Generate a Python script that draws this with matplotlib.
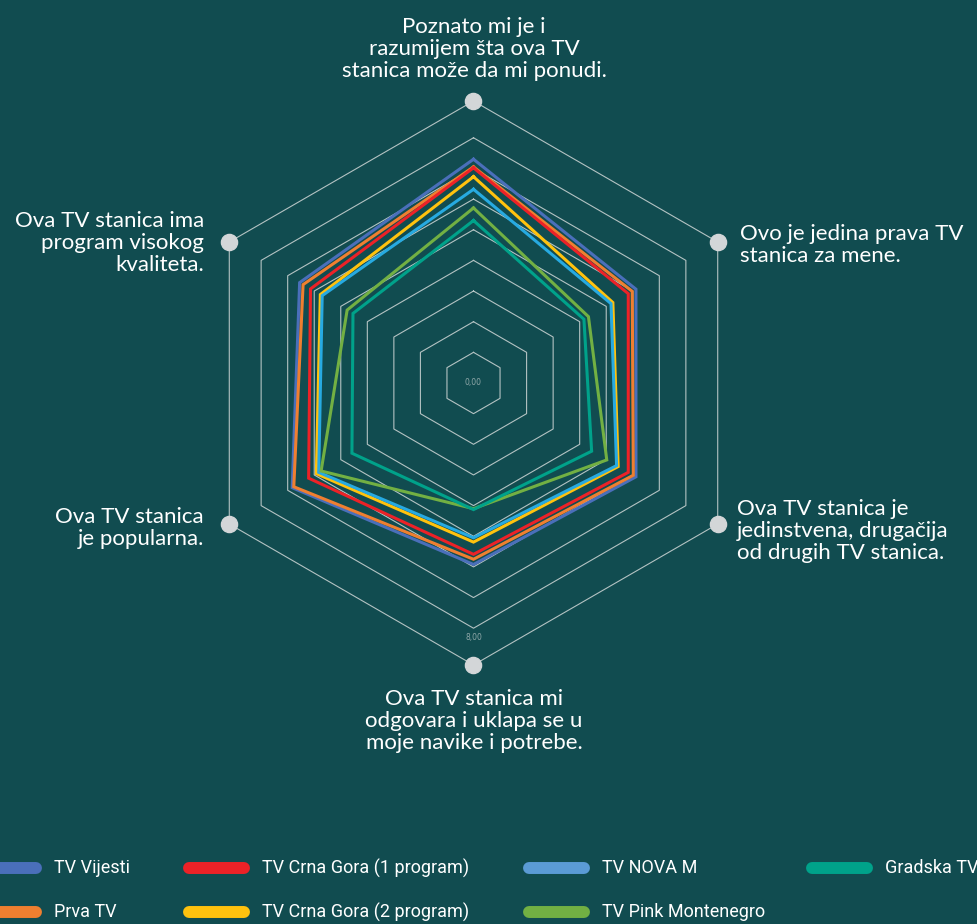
import numpy as np
import matplotlib.pyplot as plt
from matplotlib.lines import Line2D

# Kategorije (redom u smjeru kazaljke, od vrha)
categories = [
    'Poznato mi je i\nrazumijem šta ova TV\nstanica može da mi ponudi.',
    'Ovo je jedina prava TV\nstanica za mene.',
    'Ova TV stanica je\njedinstvena, drugačija\nod drugih TV stanica.',
    'Ova TV stanica mi\nodgovara i uklapa se u\nmoje navike i potrebe.',
    'Ova TV stanica\nje popularna.',
    'Ova TV stanica ima\nprogram visokog\nkvaliteta.',
]

stations = ['TV Vijesti', 'Prva TV', 'TV Crna Gora (1 program)',
            'TV Crna Gora (2 program)', 'TV NOVA M', 'TV Pink Montenegro',
            'Gradska TV']

vijesti = [7.30, 6.12, 6.12, 5.92, 6.83, 6.55]
prva = [7.05, 5.98, 6.02, 5.75, 6.77, 6.42]
cg1 = [7.02, 5.83, 5.83, 5.59, 6.21, 6.14]
cg2 = [6.73, 5.25, 5.45, 5.19, 5.92, 5.77]
nova_m = [6.32, 5.18, 5.39, 5.05, 5.83, 5.70]
pink = [5.71, 4.33, 5.02, 4.10, 5.74, 4.76]
gradska = [5.30, 4.16, 4.45, 4.13, 4.58, 4.54]

series = [vijesti, prva, cg1, cg2, nova_m, pink, gradska]
line_colors = ['#4a6fba', '#ef7f30', '#ec2227', '#ffc20e', '#27aae1', '#72b043', '#00a28a']
legend_colors = ['#4a6fba', '#ef7f30', '#ec2227', '#ffc20e', '#5b9bd5', '#72b043', '#00a28a']

rings = [1, 2, 3, 4, 5, 6, 7, 8]
rmax = 9.2

bg = '#114c50'
grid_col = '#b4c3c3'
W, H = 978, 924

fig = plt.figure(figsize=(W / 100, H / 100), dpi=100, facecolor=bg)
cx, cy, R = 473.5, 383, 282
ax = fig.add_axes([(cx - R) / W, (H - cy - R) / H, 2 * R / W, 2 * R / H], projection='polar')
ax.set_theta_offset(np.pi / 2)
ax.set_theta_direction(-1)
ax.set_ylim(0, rmax)
ax.axis('off')

angles = np.linspace(0, 2 * np.pi, len(categories), endpoint=False)
closed = np.append(angles, angles[0])

# mreža (šestougaonici)
for r in rings:
    ax.plot(closed, [r] * len(closed), color=grid_col, lw=0.8, zorder=1)
ax.plot(closed, [rmax] * len(closed), color=grid_col, lw=0.8, zorder=1, clip_on=False)

for vals, col in zip(series, line_colors):
    ax.plot(closed, vals + vals[:1], color=col, lw=2.2, zorder=3, solid_joinstyle='miter')

ax.scatter(angles, [rmax] * len(angles), s=135, color='#d3d6d8', zorder=5, clip_on=False)

ax.text(0, 0, '0,00', color='#8fa8a9', fontsize=5.5, ha='center', va='center')
ax.text(np.pi, 8.3, '8,00', color='#8fa8a9', fontsize=5.5, ha='center', va='center')

font = 'Lato'
fs = 16
# oznake kategorija (pikseli)
lbl = [
    (474, 49, 'center'),
    (740, 245, 'left'),
    (737, 531, 'left'),
    (474, 721, 'center'),
    (204, 528, 'right'),
    (204, 243, 'right'),
]
for (x, y, ha), text in zip(lbl, categories):
    fig.text(x / W, 1 - y / H, text, color='white', fontsize=fs, family=font,
             ha=ha, va='center', linespacing=1.12, multialignment=ha)

# legenda
leg_pos = [(0, 868), (0, 912), (183, 868), (183, 912), (523, 868), (523, 912), (806, 868)]
for (x, y), name, col in zip(leg_pos, stations, legend_colors):
    x0 = x - 25 if x == 0 else x
    x1 = 42 if x == 0 else x + 67
    fig.add_artist(Line2D([(x0 + 6) / W, (x1 - 6) / W], [1 - y / H, 1 - y / H],
                          color=col, lw=8.6, solid_capstyle='round'))
    fig.text((x1 + 12) / W, 1 - y / H, name, color='white', fontsize=13,
             family='Roboto', ha='left', va='center')

fig.savefig('out.png', dpi=100, facecolor=bg)
